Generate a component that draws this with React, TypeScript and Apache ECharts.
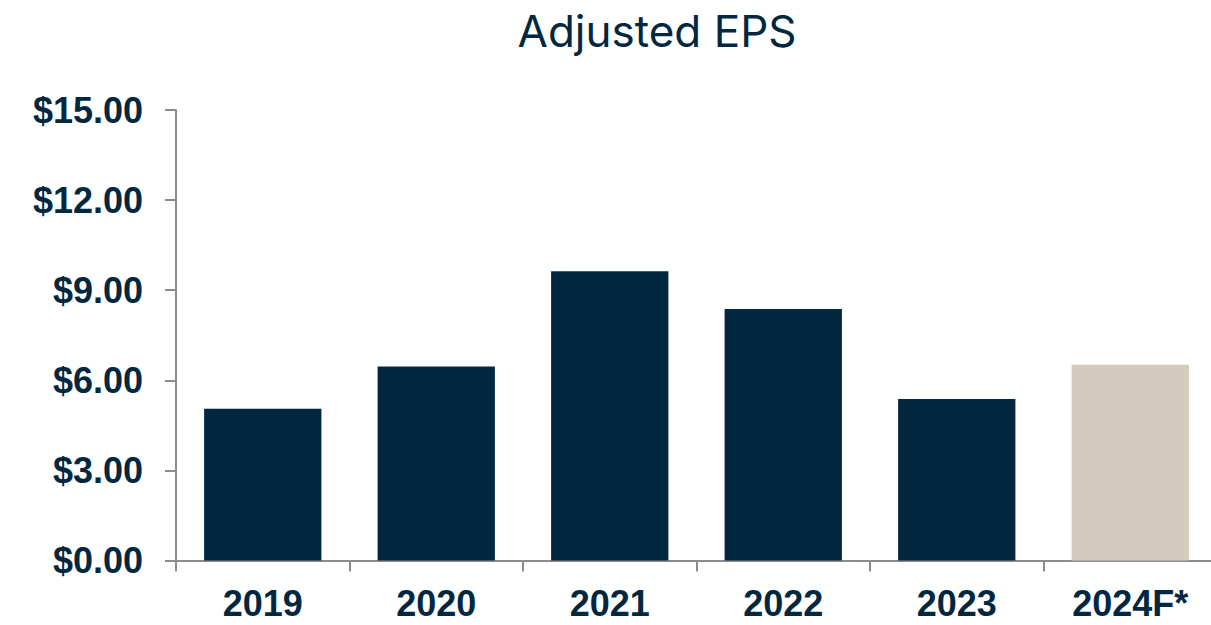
import React, { useEffect, useRef } from "react";
import * as echarts from "echarts";

const categories = ["2019", "2020", "2021", "2022", "2023", "2024F*"];
const epsValues = [5.05, 6.46, 9.63, 8.37, 5.38, 6.52];
const barColors = ["#02273F", "#02273F", "#02273F", "#02273F", "#02273F", "#D3CBBD"];
const yMin = 0;
const yMax = 15;
const yInterval = 3;
const titleText = "Adjusted EPS";

export default function App() {
  const ref = useRef<HTMLDivElement>(null);
  useEffect(() => {
    if (!ref.current) return;
    const chart = echarts.init(ref.current, undefined, { renderer: "svg" });
    chart.setOption({
      animation: false,
      backgroundColor: "#ffffff",
      title: {
        text: titleText,
        left: 652,
        textAlign: "center",
        top: 4,
        textStyle: {
          fontFamily: "Inter",
          fontWeight: 400,
          fontSize: 44,
          color: "#02273F",
        },
      },
      grid: { left: 176, right: 3, top: 110, bottom: 64.5, containLabel: false },
      xAxis: {
        type: "category",
        data: categories,
        axisLine: { show: true, lineStyle: { color: "#8C8C8C", width: 2 } },
        axisTick: { show: true, length: 11, alignWithLabel: false, lineStyle: { color: "#8C8C8C", width: 2 } },
        axisLabel: {
          margin: 25,
          fontFamily: "Liberation Sans",
          fontWeight: "bold",
          fontSize: 36,
          color: "#02273F",
          interval: 0,
        },
      },
      yAxis: {
        type: "value",
        min: yMin,
        max: yMax,
        interval: yInterval,
        splitLine: { show: false },
        axisLine: { show: true, lineStyle: { color: "#8C8C8C", width: 2 } },
        axisTick: { show: true, length: 11, lineStyle: { color: "#8C8C8C", width: 2 } },
        axisLabel: {
          margin: 33,
          fontFamily: "Liberation Sans",
          fontWeight: "bold",
          fontSize: 36,
          color: "#02273F",
          formatter: (v: number) => "$" + v.toFixed(2),
        },
      },
      series: [
        {
          type: "bar",
          barCategoryGap: "32.4%",
          data: epsValues.map((v, i) => ({ value: v, itemStyle: { color: barColors[i] } })),
        },
      ],
    });
    return () => chart.dispose();
  }, []);
  return (
    <div
      style={{ position: "fixed", left: 0, top: 0, width: 1211, height: 625, overflow: "hidden", background: "#fff" }}
    >
      <div ref={ref} style={{ width: 1220, height: 625 }} />
    </div>
  );
}
